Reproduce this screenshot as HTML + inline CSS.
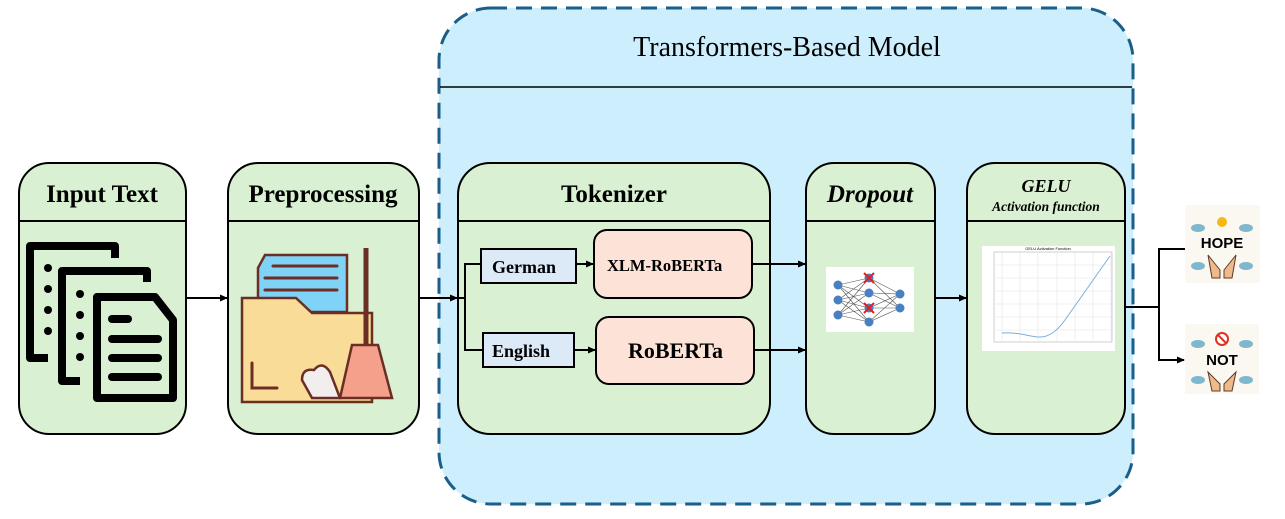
<!DOCTYPE html>
<html><head><meta charset="utf-8"><style>
body{margin:0;background:#fff;width:1285px;height:514px;overflow:hidden;font-family:"Liberation Serif",serif}
</style></head><body>
<svg width="1285" height="514" viewBox="0 0 1285 514" xmlns="http://www.w3.org/2000/svg" font-family="Liberation Serif, serif">
<defs><marker id="a" markerWidth="8" markerHeight="8" refX="7" refY="4" orient="auto" markerUnits="userSpaceOnUse"><path d="M0,0.5 L8,4 L0,7.5z" fill="#000"/></marker></defs>
<rect x="439" y="8" width="694" height="496" rx="52" fill="#cdeefc" stroke="#1a5e8a" stroke-width="3" stroke-dasharray="16,9"/>
<line x1="440" y1="87" x2="1132" y2="87" stroke="#000" stroke-width="1.5"/>
<text x="787" y="56" font-size="28" text-anchor="middle">Transformers-Based Model</text>
<g stroke="#000" stroke-width="2" fill="#d9f1d2">
<rect x="19" y="163" width="167" height="271" rx="30"/>
<rect x="228" y="163" width="191" height="271" rx="30"/>
<rect x="458" y="163" width="312" height="271" rx="32"/>
<rect x="806" y="163" width="129" height="271" rx="28"/>
<rect x="967" y="163" width="158" height="271" rx="28"/>
</g>
<g stroke="#000" stroke-width="2">
<line x1="19" y1="221" x2="186" y2="221"/><line x1="228" y1="221" x2="419" y2="221"/>
<line x1="458" y1="221" x2="770" y2="221"/><line x1="806" y1="221" x2="935" y2="221"/>
<line x1="967" y1="221" x2="1125" y2="221"/>
</g>
<g font-weight="bold" text-anchor="middle" font-size="25">
<text x="102" y="202">Input Text</text>
<text x="323" y="202">Preprocessing</text>
<text x="614" y="202">Tokenizer</text>
<text x="870" y="202" font-style="italic">Dropout</text>
<text x="1046" y="192" font-style="italic" font-size="18">GELU</text>
<text x="1046" y="211" font-style="italic" font-size="13.5">Activation function</text>
</g>
<rect x="481" y="249" width="95" height="34" fill="#dce9f7" stroke="#000" stroke-width="2"/>
<rect x="483" y="333" width="91" height="34" fill="#dce9f7" stroke="#000" stroke-width="2"/>
<rect x="594" y="230" width="158" height="68" rx="13" fill="#fde2d8" stroke="#000" stroke-width="2"/>
<rect x="596" y="317" width="158" height="67" rx="13" fill="#fde2d8" stroke="#000" stroke-width="2"/>
<g font-weight="bold">
<text x="492" y="273" font-size="18">German</text>
<text x="492" y="357" font-size="18">English</text>
<text x="607" y="271" font-size="16.5">XLM-RoBERTa</text>
<text x="628" y="358" font-size="22">RoBERTa</text>
</g>
<g stroke="#000" stroke-width="2" fill="none">
<line x1="186" y1="298" x2="227" y2="298" marker-end="url(#a)"/>
<line x1="419" y1="298" x2="457" y2="298" marker-end="url(#a)"/>
<polyline points="458,298 465,298"/>
<polyline points="481,264 465,264 465,350 483,350"/>
<line x1="576" y1="264" x2="593" y2="264" marker-end="url(#a)"/>
<line x1="574" y1="350" x2="595" y2="350" marker-end="url(#a)"/>
<line x1="752" y1="264" x2="805" y2="264" marker-end="url(#a)"/>
<line x1="754" y1="350" x2="805" y2="350" marker-end="url(#a)"/>
<line x1="935" y1="298" x2="966" y2="298" marker-end="url(#a)"/>
<polyline points="1125,307 1158,307"/>
<polyline points="1185,249 1159,249 1159,360 1184,360" marker-end="url(#a)"/>
</g>
<g fill="none" stroke="#000" stroke-width="8" stroke-linejoin="round">
<path d="M115,258 V246 H30 V358 H48"/>
<path d="M147,282 V271 H62 V381 H80"/>
<path d="M97,297 V398 H173 V320 L155,297 Z"/>
</g>
<g fill="#000">
<circle cx="48" cy="268" r="4"/><circle cx="48" cy="289" r="4"/><circle cx="48" cy="310" r="4"/><circle cx="48" cy="331" r="4"/>
<circle cx="80" cy="294" r="4"/><circle cx="80" cy="315" r="4"/><circle cx="80" cy="336" r="4"/><circle cx="80" cy="357" r="4"/>
<rect x="108" y="315" width="24" height="8" rx="4"/><rect x="108" y="335" width="54" height="8" rx="4"/>
<rect x="108" y="354" width="54" height="8" rx="4"/><rect x="108" y="373" width="54" height="8" rx="4"/>
</g>
<g stroke="#6b2e24" stroke-width="2.5">
<path d="M258,268 L265,255 H347 V312 H258 Z" fill="#7fd3f7"/>
<path d="M242,298 H296 L312,313 H372 V402 H242 Z" fill="#f9dc98"/>
<line x1="366" y1="248" x2="366" y2="345" stroke-width="5"/>
<path d="M352,345 H378 L392,398 H340 Z" fill="#f4a08a"/>
<path d="M302,380 q0,-12 12,-10 q8,-10 16,2 L340,398 H312 Z" fill="#f3eeee"/>
</g>
<g stroke="#6b2e24" stroke-width="3" stroke-linecap="round"><line x1="273" y1="266" x2="337" y2="266"/><line x1="265" y1="278" x2="337" y2="278"/><line x1="265" y1="290" x2="337" y2="290"/><path d="M252,363 V388 H277" fill="none"/></g>
<rect x="826" y="267" width="88" height="65" fill="#fff"/>
<g stroke="#555" stroke-width="0.6">
<path d="M838,285 L869,278 M838,285 L869,293 M838,285 L869,308 M838,285 L869,322 M838,300 L869,278 M838,300 L869,293 M838,300 L869,308 M838,300 L869,322 M838,315 L869,278 M838,315 L869,293 M838,315 L869,308 M838,315 L869,322 M869,278 L900,294 M869,293 L900,294 M869,308 L900,294 M869,322 L900,294 M869,278 L900,308 M869,293 L900,308 M869,308 L900,308 M869,322 L900,308"/>
</g>
<g fill="#4a7fc1"><circle cx="838" cy="285" r="4.5"/><circle cx="838" cy="300" r="4.5"/><circle cx="838" cy="315" r="4.5"/><circle cx="869" cy="278" r="4.5"/><circle cx="869" cy="293" r="4.5"/><circle cx="869" cy="308" r="4.5"/><circle cx="869" cy="322" r="4.5"/><circle cx="900" cy="294" r="4.5"/><circle cx="900" cy="308" r="4.5"/></g>
<g stroke="#e02020" stroke-width="2"><path d="M864,273 L874,283 M874,273 L864,283 M864,303 L874,313 M874,303 L864,313"/></g>
<rect x="982" y="246" width="133" height="105" fill="#fff"/>
<rect x="994" y="252" width="118" height="90" fill="none" stroke="#bbb" stroke-width="0.7"/>
<g stroke="#e4e4e4" stroke-width="0.6"><path d="M1002,252V342 M1020,252V342 M1038,252V342 M1057,252V342 M1075,252V342 M1093,252V342 M1111,252V342 M994,265H1112 M994,278H1112 M994,291H1112 M994,304H1112 M994,317H1112 M994,330H1112"/></g>
<path d="M1002,333 C1020,332 1030,337 1040,337 C1050,337 1058,330 1065,320 L1110,256" fill="none" stroke="#7aaedb" stroke-width="1"/>
<text x="1048" y="250" font-size="4" font-family="Liberation Sans, sans-serif" text-anchor="middle">GELU Activation Function</text>
<rect x="1185" y="205" width="75" height="78" fill="#fbf8f1"/>
<rect x="1185" y="324" width="74" height="70" fill="#fbf8f1"/>
<circle cx="1222" cy="222" r="5" fill="#f5b915"/>
<text x="1222" y="248" font-size="15" font-weight="bold" font-family="Liberation Sans, sans-serif" text-anchor="middle">HOPE</text>
<circle cx="1222" cy="339" r="6" fill="#fff" stroke="#d32" stroke-width="2"/><line x1="1218" y1="335" x2="1226" y2="343" stroke="#d32" stroke-width="2"/>
<text x="1222" y="365" font-size="15" font-weight="bold" font-family="Liberation Sans, sans-serif" text-anchor="middle">NOT</text>
<g fill="#f0b98a" stroke="#5a3a2a" stroke-width="1"><path d="M1208,255 L1220,270 L1220,278 L1212,278 Z M1236,255 L1224,270 L1224,278 L1232,278 Z"/><path d="M1208,372 L1220,384 L1220,391 L1212,391 Z M1236,372 L1224,384 L1224,391 L1232,391 Z"/></g>
<g fill="#7fb7cf"><ellipse cx="1198" cy="228" rx="7" ry="4"/><ellipse cx="1246" cy="228" rx="7" ry="4"/><ellipse cx="1198" cy="266" rx="7" ry="4"/><ellipse cx="1246" cy="266" rx="7" ry="4"/><ellipse cx="1198" cy="344" rx="7" ry="4"/><ellipse cx="1246" cy="344" rx="7" ry="4"/><ellipse cx="1198" cy="380" rx="7" ry="4"/><ellipse cx="1246" cy="380" rx="7" ry="4"/></g>
</svg>
</body></html>
